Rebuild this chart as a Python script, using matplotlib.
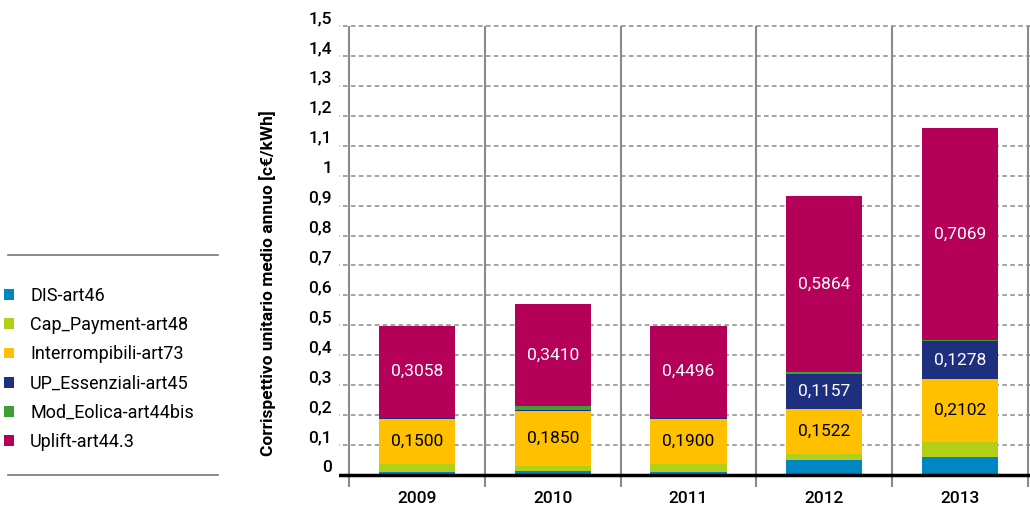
import numpy as np
import matplotlib
matplotlib.use('Agg')
import matplotlib.pyplot as plt
from matplotlib.transforms import ScaledTranslation
from matplotlib.lines import Line2D

plt.rcParams['font.family'] = ['Roboto', 'DejaVu Sans']

years = ['2009', '2010', '2011', '2012', '2013']
series = ['DIS-art46', 'Cap_Payment-art48', 'Interrompibili-art73',
          'UP_Essenziali-art45', 'Mod_Eolica-art44bis', 'Uplift-art44.3']
colors = ['#0086C3', '#B3CF17', '#FFC000', '#1F2F80', '#3E9F36', '#B5005A']

# segment heights as drawn (bottom to top)
dis = [0.011, 0.013, 0.011, 0.050, 0.061]
cap = [0.025, 0.017, 0.025, 0.019, 0.049]
interr = [0.1500, 0.1850, 0.1500, 0.1522, 0.2102]
up_ess = [0.005, 0.002, 0.005, 0.1157, 0.1278]
eolica = [0.001, 0.013, 0.001, 0.008, 0.004]
uplift = [0.3058, 0.3410, 0.3058, 0.5864, 0.7069]

# printed labels
lab_interr = ['0,1500', '0,1850', '0,1900', '0,1522', '0,2102']
lab_up = [None, None, None, '0,1157', '0,1278']
lab_uplift = ['0,3058', '0,3410', '0,4496', '0,5864', '0,7069']

yticks = [round(0.1 * i, 1) for i in range(16)]
ytick_labels = ['0', '0,1', '0,2', '0,3', '0,4', '0,5', '0,6', '0,7', '0,8', '0,9',
                '1', '1,1', '1,2', '1,3', '1,4', '1,5']

fig = plt.figure(figsize=(10.30, 5.09), dpi=100)
ax = fig.add_axes([339 / 1030, 1 - 487 / 509, 691 / 1030, 463 / 509])
ax.set_xlim(-0.5 - 10 / 136, 4.5 + 2 / 136)
ax.set_ylim(-0.0401, 1.5067)
for s in ax.spines.values():
    s.set_visible(False)

x = np.arange(len(years))
# grid
ax.hlines(yticks[1:], -0.6, 4.6, colors='#8a8a8a', linestyles=(0, (3, 2.2)), lw=1.1, zorder=1)
ax.vlines(np.arange(-0.5, 5.0, 1.0), -0.0401, 1.5, colors='#8a8a8a', lw=1.5, zorder=1)

data = [dis, cap, interr, up_ess, eolica, uplift]
bottom = np.zeros(len(years))
handles = []
lab_fs = 12.5
for vals, col, name in zip(data, colors, series):
    b = ax.bar(x, vals, 0.56, bottom=bottom, color=col, label=name, zorder=2)
    handles.append(b)
    if name.startswith('Interr'):
        for i in range(len(years)):
            ax.text(x[i], bottom[i] + vals[i] / 2, lab_interr[i], ha='center', va='center',
                    fontsize=lab_fs, color='black', zorder=3)
    elif name.startswith('UP_'):
        for i in range(len(years)):
            if lab_up[i]:
                ax.text(x[i], bottom[i] + vals[i] / 2, lab_up[i], ha='center', va='center',
                        fontsize=lab_fs, color='white', zorder=3)
    elif name.startswith('Uplift'):
        for i in range(len(years)):
            ax.text(x[i], bottom[i] + vals[i] / 2, lab_uplift[i], ha='center', va='center',
                    fontsize=lab_fs, color='white', zorder=3)
    bottom = bottom + np.array(vals)

ax.axhline(0, color='black', lw=2.5, zorder=4)

ax.set_xticks(x)
ax.set_xticklabels(years, fontsize=12.5, fontweight='medium')
ax.tick_params(axis='x', length=0, pad=3)
ax.set_yticks(yticks)
ax.set_yticklabels(ytick_labels, fontsize=12.5, fontweight='medium')
ax.tick_params(axis='y', length=0, pad=5)
for lab in ax.get_yticklabels():
    lab.set_transform(lab.get_transform() + ScaledTranslation(0, 9 / 100, fig.dpi_scale_trans))

fig.text(268 / 1030, 1 - 283 / 509, 'Corrispettivo unitario medio annuo [c€/kWh]',
         rotation=90, ha='center', va='center', fontsize=12.5, fontweight='bold')

leg = fig.legend(handles=handles, labels=series, loc='upper left',
                 bbox_to_anchor=(4 / 1030, 1 - 287 / 509), frameon=False,
                 fontsize=13, handlelength=0.55, handleheight=0.55, handletextpad=0.9,
                 labelspacing=0.62, borderaxespad=0, borderpad=0)

fig.add_artist(Line2D([8 / 1030, 218 / 1030], [1 - 255 / 509, 1 - 255 / 509],
                      color='#777777', lw=1.2))
fig.add_artist(Line2D([8 / 1030, 218 / 1030], [1 - 475 / 509, 1 - 475 / 509],
                      color='#777777', lw=1.2))

fig.savefig('out.png', dpi=100)
